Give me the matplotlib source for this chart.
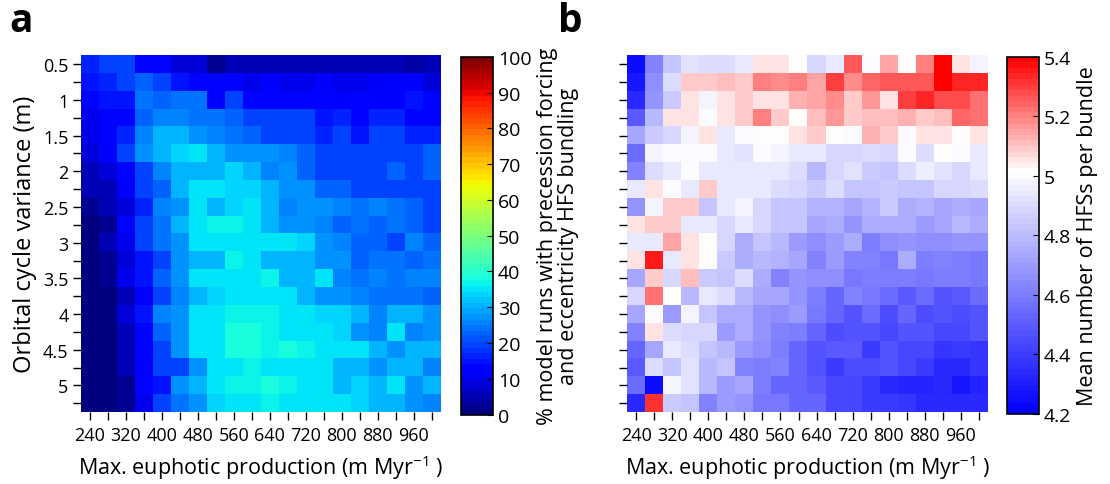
import numpy as np
import matplotlib
import matplotlib.pyplot as plt
from matplotlib.colors import LinearSegmentedColormap

plt.rcParams['font.family'] = ['Open Sans', 'DejaVu Sans']
plt.rcParams['mathtext.default'] = 'regular'

# grid axes
production = list(range(240, 1001, 40))            # m Myr-1, 20 columns
variance = [0.5 + 0.25 * i for i in range(20)]       # m, 20 rows

# panel a: % model runs with precession forcing and eccentricity HFS bundling
pct_bundling = [
    [17, 19, 19, 13, 12.5, 8, 8, 2, 5, 6, 5, 5, 6, 5, 6, 6, 6, 5, 3.5, 6],
    [15, 17, 19, 22, 20, 15, 14, 14, 12.5, 9.5, 11, 9.5, 9.5, 11, 9.5, 9.5, 11, 11, 11, 8],
    [13, 15, 15, 23.5, 22, 23.5, 23.5, 14, 19, 14, 14, 14, 12.5, 12.5, 11, 14, 11, 11, 15, 13],
    [9.5, 12.5, 14, 22, 25, 25, 23.5, 23.5, 22, 19, 19, 19, 19, 15, 17, 14, 17, 17, 12.5, 12.5],
    [9.5, 12.5, 17, 25, 31, 31, 27, 25, 23.5, 22, 19, 19, 19, 17, 19, 15, 19, 20, 17, 17],
    [8, 11, 19, 27, 30, 33, 34.5, 30, 28, 27, 27, 25, 22, 20, 20, 20, 19, 19, 19, 22],
    [6, 8, 14, 20, 25, 30, 31, 31, 33, 30, 25, 27, 22, 20, 19, 19, 19, 22, 19, 22],
    [5, 6, 11, 19, 22, 30, 34.5, 34.5, 33, 33, 30, 27, 27, 22, 22, 20, 19, 19, 19, 19],
    [3, 6, 8, 17, 25, 27, 34.5, 31, 33, 34.5, 31, 25, 28, 27, 25, 23.5, 25, 23.5, 22, 20],
    [1.5, 3, 12.5, 19, 23.5, 31, 34.5, 37, 37, 35, 30, 28, 28, 25, 22, 23.5, 22, 23.5, 22, 20],
    [0, 5, 9.5, 19, 23.5, 28, 34.5, 34.5, 35.5, 35.5, 34.5, 34.5, 33, 27, 25, 22, 22, 19, 25, 22],
    [0.5, 3, 8, 15, 20, 27, 30, 31, 37, 34.5, 30, 30, 30, 27, 27, 22, 23.5, 23.5, 22, 23.5],
    [0.5, 2, 9.5, 15, 22, 28, 34.5, 35, 35.5, 35.5, 37, 30, 31, 34.5, 25, 23.5, 25, 23.5, 25, 25],
    [0, 1.5, 5, 11, 20, 25, 30, 33, 35.5, 35, 35, 35, 30, 27, 27, 25, 23.5, 23.5, 23.5, 22],
    [0, 1.5, 8, 15, 25, 27, 35, 35.5, 37, 37, 37, 35, 35, 33, 33, 30, 25, 30, 31, 27],
    [0.5, 0.5, 5, 12.5, 22, 27, 35, 35.5, 37.5, 37.5, 37, 34.5, 35.5, 35, 33, 28, 25, 34.5, 25, 27],
    [0.5, 0.5, 5, 14, 20, 27, 34.5, 35.5, 37.5, 37.5, 37, 38, 37, 35, 35, 35, 31, 27, 30, 30],
    [0.5, 0.5, 5, 11, 20, 20, 28, 34.5, 34.5, 37, 35.5, 35.5, 35, 34.5, 31, 31, 27, 31, 30, 25],
    [0, 0.5, 2, 12.5, 15, 27, 31, 35.5, 37, 37, 38, 37, 35.5, 35, 30, 33, 30, 34.5, 27, 30],
    [0.5, 0.5, 2, 9.5, 19, 23.5, 27, 33, 35.5, 35, 37, 35.5, 34.5, 35.5, 34.5, 33, 30, 30, 28, 25],
]

# panel b: mean number of HFSs per bundle
hfs_per_bundle = [
    [4.25, 4.63, 4.83, 4.93, 4.90, 4.90, 4.95, 5.06, 5.05, 5.02, 4.88, 4.95, 5.26, 5.00, 5.15, 5.02, 5.20, 5.40, 5.06, 4.97],
    [4.28, 4.65, 4.90, 5.09, 5.09, 5.11, 5.09, 5.20, 5.18, 5.21, 5.14, 5.29, 5.19, 5.25, 5.26, 5.26, 5.26, 5.40, 5.33, 5.33],
    [4.35, 4.68, 4.85, 5.06, 4.97, 5.05, 5.09, 5.05, 5.05, 5.12, 5.15, 5.19, 5.09, 5.16, 5.06, 5.30, 5.33, 5.27, 5.27, 5.22],
    [4.50, 4.80, 5.05, 5.06, 5.00, 5.06, 5.09, 5.20, 5.10, 5.02, 5.11, 5.16, 5.09, 5.11, 5.11, 5.12, 5.09, 5.11, 5.25, 5.22],
    [4.73, 4.85, 4.88, 4.97, 5.06, 4.95, 5.00, 5.02, 5.02, 5.05, 5.09, 5.02, 5.00, 5.12, 5.09, 5.00, 5.05, 5.06, 5.02, 5.06],
    [4.55, 4.97, 5.00, 5.00, 5.00, 4.95, 4.93, 5.00, 4.97, 4.95, 4.95, 4.88, 4.88, 4.90, 4.88, 5.00, 4.90, 5.02, 5.00, 4.95],
    [4.63, 4.90, 4.95, 5.00, 4.94, 4.95, 4.95, 4.94, 4.94, 4.90, 4.80, 4.88, 4.93, 4.85, 4.83, 4.90, 4.96, 4.93, 4.89, 4.94],
    [4.95, 5.05, 5.00, 4.94, 5.10, 4.95, 4.94, 4.94, 4.90, 4.88, 4.85, 4.90, 4.83, 4.83, 4.85, 4.82, 4.83, 4.88, 4.88, 4.90],
    [4.68, 4.97, 5.09, 5.09, 4.83, 4.94, 4.97, 4.88, 4.83, 4.82, 4.78, 4.78, 4.73, 4.78, 4.85, 4.75, 4.78, 4.73, 4.75, 4.73],
    [5.06, 5.10, 5.09, 4.95, 4.95, 4.89, 4.95, 4.88, 4.83, 4.83, 4.73, 4.75, 4.68, 4.75, 4.75, 4.75, 4.70, 4.73, 4.80, 4.75],
    [4.95, 4.95, 5.15, 5.06, 5.02, 4.88, 4.75, 4.83, 4.80, 4.70, 4.65, 4.70, 4.75, 4.60, 4.65, 4.68, 4.65, 4.65, 4.68, 4.68],
    [5.05, 5.35, 4.95, 5.06, 5.02, 4.85, 4.75, 4.80, 4.78, 4.73, 4.63, 4.70, 4.63, 4.63, 4.58, 4.75, 4.60, 4.63, 4.60, 4.58],
    [4.73, 5.09, 4.88, 5.11, 4.85, 4.83, 4.90, 4.75, 4.63, 4.68, 4.65, 4.65, 4.58, 4.60, 4.60, 4.60, 4.58, 4.60, 4.60, 4.58],
    [4.88, 5.22, 5.02, 4.80, 4.95, 4.90, 4.80, 4.73, 4.73, 4.68, 4.60, 4.53, 4.63, 4.58, 4.55, 4.50, 4.55, 4.48, 4.50, 4.55],
    [4.73, 5.00, 4.70, 4.97, 4.83, 4.75, 4.75, 4.68, 4.65, 4.70, 4.58, 4.53, 4.48, 4.55, 4.45, 4.53, 4.45, 4.48, 4.45, 4.48],
    [4.63, 5.06, 4.90, 4.89, 4.89, 4.70, 4.75, 4.68, 4.63, 4.60, 4.53, 4.45, 4.48, 4.48, 4.43, 4.48, 4.48, 4.43, 4.43, 4.48],
    [4.53, 4.73, 4.95, 4.90, 4.83, 4.80, 4.70, 4.65, 4.60, 4.53, 4.48, 4.50, 4.50, 4.40, 4.48, 4.43, 4.43, 4.38, 4.40, 4.38],
    [4.50, 4.90, 4.83, 4.93, 4.80, 4.83, 4.63, 4.60, 4.63, 4.53, 4.48, 4.40, 4.45, 4.45, 4.48, 4.43, 4.40, 4.35, 4.35, 4.38],
    [4.55, 4.25, 4.97, 4.93, 4.80, 4.70, 4.73, 4.60, 4.53, 4.53, 4.50, 4.43, 4.43, 4.40, 4.35, 4.33, 4.33, 4.35, 4.28, 4.33],
    [4.35, 5.32, 4.85, 4.83, 4.63, 4.70, 4.68, 4.58, 4.58, 4.53, 4.53, 4.43, 4.43, 4.40, 4.40, 4.38, 4.35, 4.35, 4.35, 4.35],
]

x_labels = [str(v) if i % 2 == 0 and v < 1000 else '' for i, v in enumerate(production)]
y_labels = [('%g' % v) if i % 2 == 0 and v <= 5 else '' for i, v in enumerate(variance)]

jet = plt.get_cmap('jet', 64)
bwr = LinearSegmentedColormap.from_list('bwr5', [(0, (0, 0, 1)), (0.68, (1, 1, 1)), (1, (1, 0, 0))], N=64)

fig = plt.figure(figsize=(11.1, 4.85), dpi=100)
ax1 = fig.add_axes([0.073, 0.148, 0.324, 0.736])
cax1 = fig.add_axes([0.415, 0.143, 0.029, 0.738])
ax2 = fig.add_axes([0.565, 0.148, 0.325, 0.736])
cax2 = fig.add_axes([0.907, 0.145, 0.029, 0.736])

ext = [production[0] - 20, production[-1] + 20, variance[-1] + 0.125, variance[0] - 0.125]
im1 = ax1.imshow(np.array(pct_bundling), cmap=jet, vmin=0, vmax=100, extent=ext,
                 aspect='auto', interpolation='nearest')
im2 = ax2.imshow(np.array(hfs_per_bundle), cmap=bwr, vmin=4.2, vmax=5.4, extent=ext,
                 aspect='auto', interpolation='nearest')

for ax in (ax1, ax2):
    ax.set_xticks(production)
    ax.set_xticklabels(x_labels)
    ax.set_yticks(variance)
    ax.tick_params(direction='out', length=6, width=1, labelsize=13, pad=3)
    ax.tick_params(axis='x', pad=4)
    for s in ax.spines.values():
        s.set_visible(False)
    ax.set_xlabel('Max. euphotic production (m Myr$^{-1}$ )', fontsize=15.5, labelpad=6)

ax1.set_yticklabels(y_labels)
ax2.set_yticklabels([])
ax1.set_ylabel('Orbital cycle variance (m)', fontsize=17, labelpad=4)

cb1 = fig.colorbar(im1, cax=cax1, ticks=range(0, 101, 10))
cb1.ax.tick_params(direction='in', length=4, labelsize=14)
cb1.outline.set_linewidth(1.2)
cb1.set_label('% model runs with precession forcing\nand eccentricity HFS bundling', fontsize=15.5, linespacing=1.0)

cb2 = fig.colorbar(im2, cax=cax2, ticks=[4.2, 4.4, 4.6, 4.8, 5.0, 5.2, 5.4])
cb2.ax.set_yticklabels(['4.2', '4.4', '4.6', '4.8', '5', '5.2', '5.4'])
cb2.ax.tick_params(direction='in', length=4, labelsize=14)
cb2.outline.set_linewidth(1.2)
cb2.set_label('Mean number of HFSs per bundle', fontsize=15.5)

fig.text(0.008, 0.955, 'a', fontsize=28, fontweight='bold', va='center', ha='left')
fig.text(0.503, 0.955, 'b', fontsize=28, fontweight='bold', va='center', ha='left')

fig.savefig('out.png', dpi=100)
